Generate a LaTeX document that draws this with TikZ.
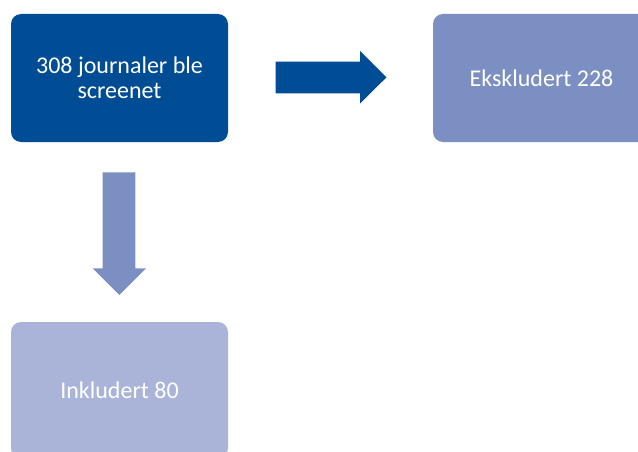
\documentclass[tikz,border=0pt]{standalone}
\usepackage{fontspec}
\setmainfont{Carlito}
\definecolor{darkblue}{RGB}{0,77,150}
\definecolor{midblue}{RGB}{123,143,194}
\definecolor{paleblue}{RGB}{170,180,216}
\tikzset{
  flowbox/.style={rectangle, rounded corners=10pt, minimum width=217pt,
    inner sep=0pt, text=white, align=center, font=\fontsize{24}{25}\selectfont},
}
\begin{document}
\begin{tikzpicture}[x=1pt,y=-1pt]
  \useasboundingbox (0,0) rectangle (638,452);
  \clip (0,0) rectangle (638,452);
  % boxes
  \node[flowbox, fill=darkblue, minimum height=128pt] (screen) at (119.5,78) {308 journaler ble\\screenet};
  \node[flowbox, fill=midblue, minimum height=128pt] (excl) at (541.5,78) {Ekskludert 228};
  \node[flowbox, fill=paleblue, minimum height=136pt] (incl) at (119.5,390) {Inkludert 80};
  % block arrow to the right
  \fill[darkblue] (275.5,61.7) -- (360,61.7) -- (360,51) -- (386.5,77.3)
    -- (360,103.5) -- (360,93.3) -- (275.5,93.3) -- cycle;
  % block arrow downward
  \fill[midblue] (102.7,172.3) -- (135.3,172.3) -- (135.3,268.3) -- (146,268.3)
    -- (119.3,295) -- (92.7,268.3) -- (102.7,268.3) -- cycle;
\end{tikzpicture}
\end{document}
